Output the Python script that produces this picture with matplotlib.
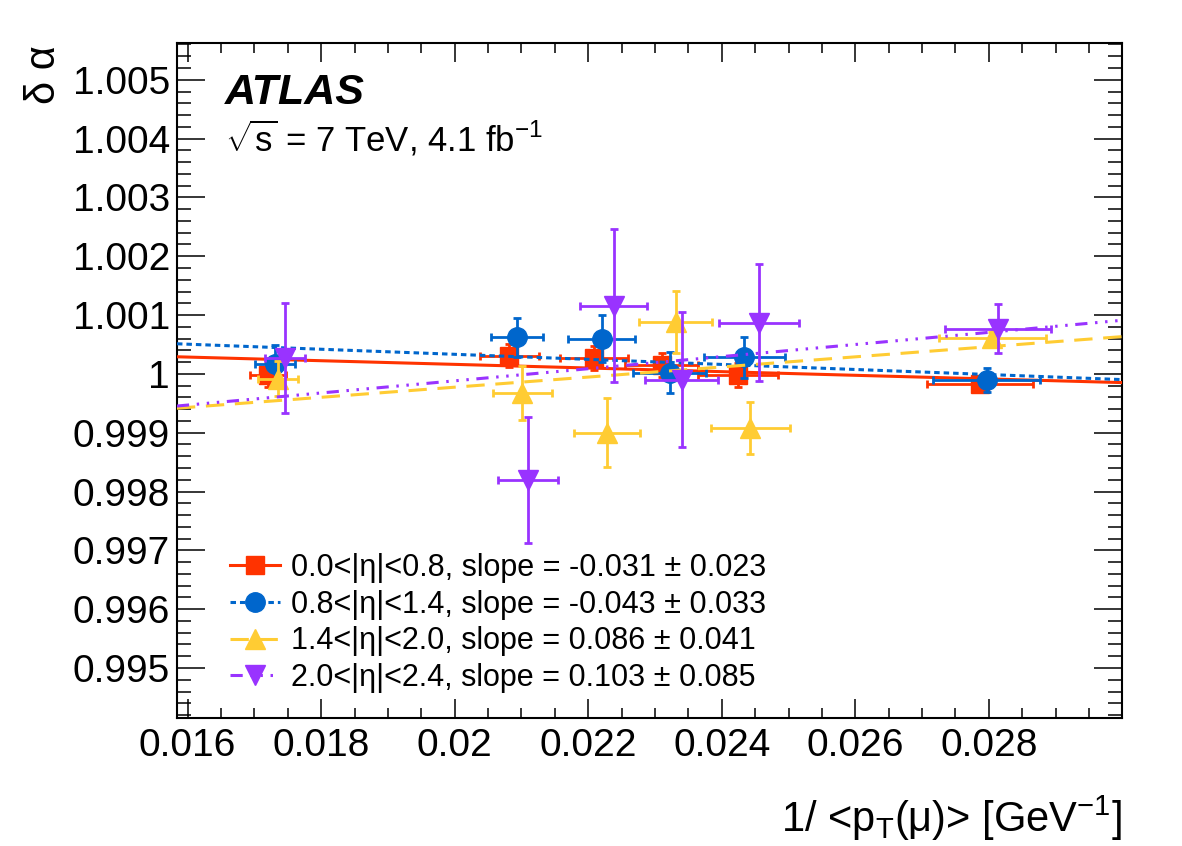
import matplotlib
matplotlib.use("Agg")
import matplotlib.pyplot as plt
from matplotlib.ticker import MultipleLocator, FormatStrFormatter
from matplotlib.lines import Line2D
import numpy as np

plt.rcParams['font.family'] = ['Liberation Sans', 'DejaVu Sans']
plt.rcParams['mathtext.fontset'] = 'custom'
plt.rcParams['mathtext.rm'] = 'Liberation Sans'
plt.rcParams['mathtext.it'] = 'Liberation Sans:italic'
plt.rcParams['mathtext.bf'] = 'Liberation Sans:bold'

#--------------------------------------------------
# dati
#--------------------------------------------------
labels = ["0.0<|η|<0.8, slope = -0.031 ± 0.023",
          "0.8<|η|<1.4, slope = -0.043 ± 0.033",
          "1.4<|η|<2.0, slope = 0.086 ± 0.041",
          "2.0<|η|<2.4, slope = 0.103 ± 0.085"]

# 0.0<|eta|<0.8
x_red = [0.01720, 0.02082, 0.02208, 0.02310, 0.02424, 0.02787]
y_red = [0.99998, 1.00031, 1.00027, 1.00015, 0.99998, 0.99982]
xe_red = [0.00027, 0.00044, 0.00051, 0.00055, 0.00060, 0.00079]
ye_red = [0.00020, 0.00020, 0.00020, 0.00020, 0.00020, 0.00010]

# 0.8<|eta|<1.4
x_blue = [0.01731, 0.02093, 0.02220, 0.02322, 0.02434, 0.02797]
y_blue = [1.00016, 1.00062, 1.00060, 1.00002, 1.00028, 0.99990]
xe_blue = [0.00030, 0.00039, 0.00050, 0.00055, 0.00060, 0.00080]
ye_blue = [0.00033, 0.00033, 0.00040, 0.00035, 0.00035, 0.00020]

# 1.4<|eta|<2.0
x_yel = [0.01735, 0.02101, 0.02228, 0.02331, 0.02443, 0.02805]
y_yel = [0.99992, 0.99968, 0.99900, 1.00088, 0.99908, 1.00061]
xe_yel = [0.00030, 0.00044, 0.00050, 0.00055, 0.00059, 0.00080]
ye_yel = [0.00030, 0.00046, 0.00059, 0.00053, 0.00044, 0.00010]

# 2.0<|eta|<2.4
x_pur = [0.01746, 0.02110, 0.02238, 0.02340, 0.02456, 0.02814]
y_pur = [1.00027, 0.99820, 1.00116, 0.99990, 1.00087, 1.00077]
xe_pur = [0.00030, 0.00045, 0.00050, 0.00055, 0.00060, 0.00079]
ye_pur = [0.00094, 0.00107, 0.00130, 0.00115, 0.00099, 0.00042]

# fit lineari: alpha = a + b * x
fit_a = [1.000782, 1.001193, 0.998054, 0.997822]
fit_b = [-0.031, -0.043, 0.086, 0.103]

colori = ['#ff3300', '#0066cc', '#ffcc33', '#9933ff']
marker = ['s', 'o', '^', 'v']
ms = [13, 14, 14, 14]
stili = ['-', (0, (1.8, 1.3)), (0, (6, 3.5)), (0, (4, 2.5, 0.8, 2.5, 0.8, 2.5, 0.8, 2.5))]

serie = [(x_red, y_red, xe_red, ye_red),
         (x_blue, y_blue, xe_blue, ye_blue),
         (x_yel, y_yel, xe_yel, ye_yel),
         (x_pur, y_pur, xe_pur, ye_pur)]

#--------------------------------------------------
# grafico
#--------------------------------------------------
fig = plt.figure(figsize=(11.82, 8.46), dpi=100)
ax = fig.add_axes([0.1497, 0.1513, 0.7993, 0.7975])

xmin, xmax = 0.01584, 0.02999
xx = np.linspace(xmin, xmax, 50)

for i, (x, y, xe, ye) in enumerate(serie):
    ax.errorbar(x, y, xerr=xe, yerr=ye, fmt=marker[i], color=colori[i],
                ms=ms[i], elinewidth=2, capsize=3, capthick=2, zorder=3 + i)
    ax.plot(xx, fit_a[i] + fit_b[i] * xx, color=colori[i], linestyle=stili[i],
            linewidth=2.2, zorder=3 + i)

ax.set_xlim(xmin, xmax)
ax.set_ylim(0.99415, 1.00562)

ax.xaxis.set_major_locator(MultipleLocator(0.002))
ax.xaxis.set_minor_locator(MultipleLocator(0.0005))
ax.yaxis.set_major_locator(MultipleLocator(0.001))
ax.yaxis.set_minor_locator(MultipleLocator(0.0002))
ax.xaxis.set_major_formatter(FormatStrFormatter('%g'))
ax.yaxis.set_major_formatter(FormatStrFormatter('%g'))

ax.tick_params(which='both', direction='in', top=True, right=True, width=1.1,
               labelsize=28)
ax.tick_params(axis='x', which='major', length=13.5, pad=7)
ax.tick_params(axis='x', which='minor', length=7)
ax.tick_params(axis='y', which='major', length=20, pad=5)
ax.tick_params(axis='y', which='minor', length=10)
for s in ax.spines.values():
    s.set_linewidth(1.5)

# titoli assi
fig.text(0.949, 1 - 832 / 846, r'1/ <p$_{\mathrm{T}}$(μ)> [GeV$^{\mathrm{-1}}$]',
         ha='right', va='baseline', fontsize=30)
fig.text(0.037, 0.947, 'δ α', rotation=90, ha='center', va='top', fontsize=30)

# etichette ATLAS
fig.text(225 / 1182, 1 - 104 / 846, 'ATLAS', fontsize=31, weight='bold',
         style='italic', va='baseline')
fig.text(225 / 1182, 1 - 152 / 846, r'$\sqrt{\mathrm{s}}$ = 7 TeV, 4.1 fb$^{\mathrm{-1}}$',
         fontsize=25, va='baseline')

# legenda
handles = [Line2D([], [], color=colori[i], linestyle=stili[i], linewidth=2.2,
                  marker=marker[i], ms=ms[i]) for i in range(4)]
ax.legend(handles, labels, loc='upper left', bbox_to_anchor=(230 / 1182, 1 - 553 / 846),
          bbox_transform=fig.transFigure, frameon=False, fontsize=22,
          handlelength=1.64, handletextpad=0.35, labelspacing=0.22,
          borderpad=0, borderaxespad=0)

fig.savefig("out.png", dpi=100)
plt.close()
